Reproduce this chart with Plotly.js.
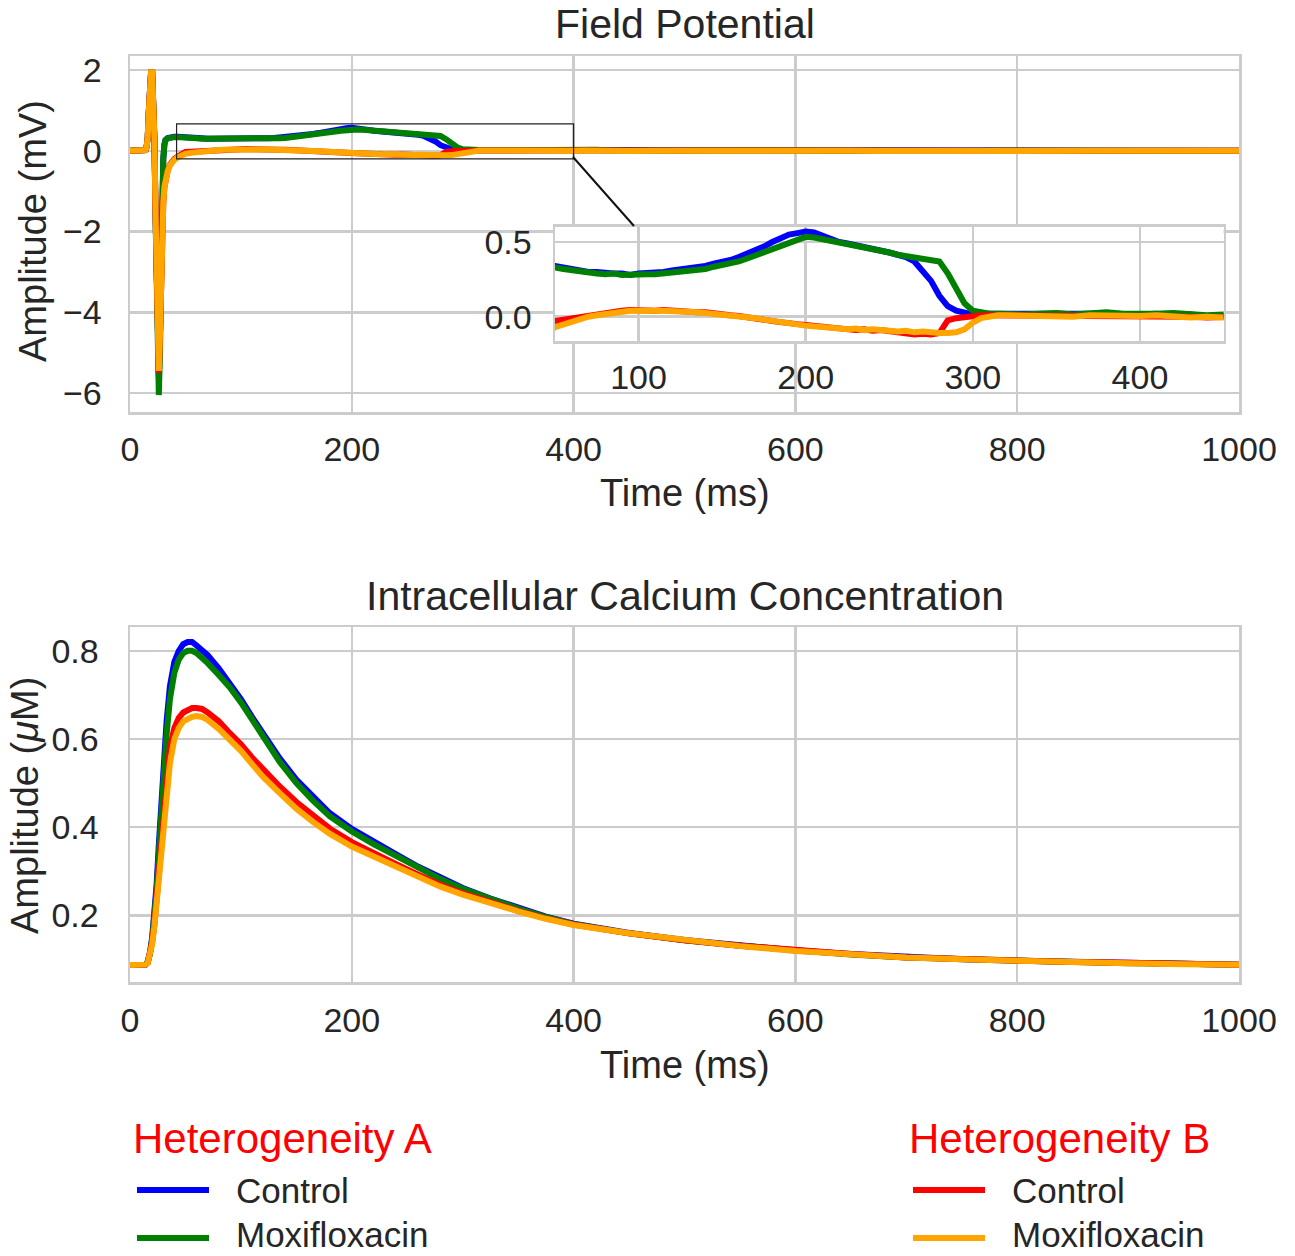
<!DOCTYPE html>
<html>
<head>
<meta charset="utf-8">
<script src="https://cdn.plot.ly/plotly-3.0.1.min.js"></script>
<style>html,body{margin:0;padding:0;background:#fff;}#chart{width:1295px;height:1256px;}</style>
</head>
<body>
<div id="chart"></div>
<script>
// ---------- Field potential (mV) ----------
const tFP = [0,5,10,13,14,15,16,17,18,19,20,21,22,23,24,25,26,27,28,29,30,31,32,34,36,38,40,43,46,
  50,55,60,65,70,75,80,85,90,95,100,105,110,115,120,125,130,135,140,145,150,155,160,165,170,175,180,185,190,195,200,
  205,210,215,220,225,230,235,240,245,250,255,260,265,270,275,280,285,290,295,300,305,310,315,320,
  330,340,350,360,370,380,390,400,410,420,430,440,450,475,500,525,550,575,600,625,650,675,700,725,750,775,800,825,850,875,900,925,950,975,1000];

const fpControlA = [0,0.01,0,0,0.02,0.1,0.35,1.0,1.6,1.95,1.95,1.4,0.3,-1.5,-3.6,-5.2,-5.6,-4.6,-2.8,-1.1,-0.2,0.15,0.27,0.32,0.34,0.34,0.35,0.35,0.34,
  0.34,0.33,0.32,0.31,0.30,0.30,0.29,0.29,0.29,0.28,0.29,0.29,0.29,0.30,0.31,0.315,0.32,0.33,0.34,0.355,0.365,0.38,0.40,0.42,0.44,0.47,0.50,0.53,0.55,0.56,0.57,
  0.565,0.54,0.52,0.50,0.49,0.48,0.47,0.46,0.445,0.43,0.415,0.40,0.37,0.31,0.24,0.14,0.07,0.04,0.025,0.015,0.02,0.02,0.015,0.02,
  0.02,0.015,0.02,0.025,0.015,0.02,0.01,0.015,0.02,0.01,0.015,0.005,0.01,0.01,0.015,0.01,0.005,0.01,0.01,0.005,0.01,0.005,0,0.005,0.01,0,0.005,0,0.005,0,0.005,0,0,0.005,0];

const fpMoxiA = [0,0.01,0,0,0.02,0.1,0.35,1.0,1.6,1.95,1.95,1.4,0.3,-1.6,-3.9,-5.6,-6.05,-5.0,-3.0,-1.2,-0.2,0.15,0.26,0.31,0.33,0.33,0.34,0.34,0.34,
  0.33,0.32,0.31,0.30,0.30,0.29,0.285,0.29,0.28,0.285,0.29,0.285,0.285,0.29,0.295,0.30,0.305,0.315,0.32,0.335,0.345,0.355,0.37,0.39,0.41,0.43,0.46,0.48,0.50,0.52,0.535,
  0.53,0.52,0.51,0.50,0.49,0.478,0.47,0.46,0.445,0.43,0.415,0.405,0.40,0.395,0.385,0.37,0.29,0.19,0.09,0.04,0.025,0.02,0.02,0.015,
  0.015,0.02,0.025,0.015,0.02,0.03,0.02,0.015,0.02,0.025,0.015,0.01,0.015,0.015,0.01,0.015,0.01,0.01,0.015,0.01,0.005,0.01,0.01,0,0.005,0.01,0.005,0,0.005,0.01,0,0.005,0,0,0.005];

const fpControlB = [0,0.01,-0.01,0,0.02,0.1,0.35,1.0,1.6,1.97,1.95,1.4,0.3,-1.5,-3.5,-5.0,-5.5,-4.6,-3.2,-2.0,-1.3,-0.9,-0.7,-0.48,-0.34,-0.26,-0.2,-0.14,-0.08,
  -0.03,-0.02,-0.01,0,0.01,0.015,0.025,0.035,0.04,0.045,0.04,0.045,0.04,0.045,0.04,0.035,0.035,0.03,0.03,0.02,0.015,0.01,0.005,0,-0.01,-0.02,-0.03,-0.04,-0.045,-0.05,-0.055,
  -0.06,-0.07,-0.075,-0.08,-0.085,-0.09,-0.085,-0.095,-0.09,-0.1,-0.105,-0.11,-0.12,-0.115,-0.12,-0.11,-0.025,-0.01,0,0.005,0.01,0.01,0.01,0.01,
  0.01,0.005,0.01,0.005,0,0.01,0.005,0.01,0,0.005,0,-0.005,0,0.005,0,0,-0.005,0,0.005,0,-0.005,0,0,-0.005,0,0.005,0,-0.005,0,0,-0.005,0,0,-0.005,0];

const fpMoxiB = [0,0.01,-0.01,0,0.02,0.1,0.35,1.0,1.6,1.95,1.95,1.4,0.3,-1.5,-3.5,-5.0,-5.45,-4.6,-3.2,-2.0,-1.3,-0.9,-0.7,-0.5,-0.36,-0.28,-0.22,-0.16,-0.11,
  -0.07,-0.05,-0.03,-0.01,0.0,0.01,0.02,0.03,0.035,0.04,0.04,0.045,0.04,0.04,0.04,0.035,0.03,0.03,0.025,0.02,0.015,0.01,0.0,-0.005,-0.01,-0.02,-0.03,-0.04,-0.045,-0.05,-0.06,
  -0.065,-0.07,-0.08,-0.075,-0.085,-0.08,-0.09,-0.085,-0.09,-0.095,-0.1,-0.095,-0.105,-0.1,-0.11,-0.11,-0.11,-0.105,-0.085,-0.04,-0.01,0.005,0.01,0.01,
  0.005,0.01,0.005,0,0.01,0.005,0,0.005,0.01,0,-0.005,0,-0.005,0,0.005,-0.005,0,0,-0.005,0.005,0,-0.005,0,0,0.005,-0.005,0,0,-0.005,0,0,0.005,-0.005,0,0];

// ---------- Intracellular calcium (uM) ----------
const tCa = [0,5,10,14,16,18,20,22,24,26,28,30,33,36,40,44,48,52,56,60,65,70,80,90,100,110,120,135,150,165,180,200,220,240,260,280,300,325,350,375,400,450,500,550,600,650,700,750,800,850,900,950,1000];
const caControlA = [0.087,0.087,0.087,0.088,0.095,0.115,0.15,0.2,0.27,0.36,0.45,0.54,0.64,0.72,0.775,0.80,0.815,0.82,0.82,0.812,0.80,0.79,0.76,0.727,0.69,0.65,0.611,0.556,0.508,0.468,0.432,0.396,0.366,0.338,0.31,0.285,0.262,0.238,0.216,0.197,0.181,0.16,0.144,0.131,0.12,0.112,0.105,0.1,0.097,0.094,0.092,0.09,0.088];
const caMoxiA = [0.087,0.087,0.087,0.088,0.094,0.112,0.145,0.19,0.255,0.34,0.42,0.51,0.61,0.69,0.75,0.78,0.795,0.80,0.80,0.795,0.785,0.772,0.745,0.717,0.683,0.643,0.602,0.548,0.5,0.46,0.425,0.39,0.361,0.334,0.307,0.282,0.26,0.236,0.215,0.196,0.18,0.159,0.143,0.131,0.12,0.111,0.104,0.1,0.096,0.094,0.091,0.09,0.088];
const caControlB = [0.087,0.087,0.087,0.088,0.092,0.11,0.14,0.18,0.24,0.3,0.37,0.44,0.52,0.58,0.625,0.648,0.66,0.666,0.67,0.67,0.668,0.66,0.64,0.613,0.588,0.558,0.53,0.492,0.457,0.425,0.397,0.366,0.34,0.316,0.292,0.269,0.25,0.229,0.21,0.193,0.179,0.159,0.143,0.131,0.12,0.112,0.104,0.1,0.096,0.094,0.092,0.09,0.088];
const caMoxiB = [0.087,0.087,0.087,0.088,0.092,0.108,0.135,0.175,0.23,0.285,0.345,0.4,0.48,0.545,0.6,0.625,0.64,0.647,0.65,0.652,0.65,0.643,0.623,0.598,0.573,0.543,0.514,0.477,0.442,0.412,0.385,0.356,0.333,0.31,0.287,0.265,0.247,0.227,0.209,0.192,0.178,0.159,0.143,0.13,0.119,0.111,0.104,0.1,0.096,0.093,0.091,0.089,0.088];

// ---------- Text ----------
const titleFP = "Field Potential";
const titleCa = "Intracellular Calcium Concentration";
const xTitle = "Time (ms)";
const yTitleFP = "Amplitude (mV)";
const yTitleCa = "Amplitude (<i>μ</i>M)";
const groupNames = ["Heterogeneity A", "Heterogeneity B"];
const seriesNames = ["Control", "Moxifloxacin"];
const xTicks = [0,200,400,600,800,1000];
const yTicksFP = [-6,-4,-2,0,2];
const yTicksCa = [0.2,0.4,0.6,0.8];
const insetXTicks = [100,200,300,400];
const insetYTicks = [0.0,0.5];

const colors = {ctrlA:"#0000ff", moxiA:"#008000", ctrlB:"#ff0000", moxiB:"#ffa500"};
const FONT = "Liberation Sans, Arial, sans-serif";
const TXT = "#262626";
const GRID = "#cccccc";
const LW = 6;

// pixel helpers (margins l=130, r=56, t=0, b=0)
const W = 1295, H = 1256, ML = 130, PW = 1109;
const px = x => (x - ML) / PW;
const py = y => 1 - y / H;

function tr(x, y, c, xa, ya) {
  return {x: x, y: y, xaxis: xa, yaxis: ya, type: "scatter", mode: "lines",
    line: {color: c, width: LW}, hoverinfo: "skip", showlegend: false};
}

const data = [
  tr(tFP, fpControlA, colors.ctrlA, "x", "y"),
  tr(tFP, fpMoxiA, colors.moxiA, "x", "y"),
  tr(tFP, fpControlB, colors.ctrlB, "x", "y"),
  tr(tFP, fpMoxiB, colors.moxiB, "x", "y"),
  tr(tCa, caControlA, colors.ctrlA, "x2", "y2"),
  tr(tCa, caMoxiA, colors.moxiA, "x2", "y2"),
  tr(tCa, caControlB, colors.ctrlB, "x2", "y2"),
  tr(tCa, caMoxiB, colors.moxiB, "x2", "y2"),
  tr(tFP, fpControlA, colors.ctrlA, "x3", "y3"),
  tr(tFP, fpMoxiA, colors.moxiA, "x3", "y3"),
  tr(tFP, fpControlB, colors.ctrlB, "x3", "y3"),
  tr(tFP, fpMoxiB, colors.moxiB, "x3", "y3")
];

function ax(extra) {
  return Object.assign({
    showgrid: true, gridcolor: GRID, gridwidth: 2.5,
    showline: true, mirror: true, linecolor: GRID, linewidth: 2.5,
    zeroline: false, ticks: "", automargin: false,
    tickfont: {family: FONT, size: 34, color: TXT}
  }, extra);
}

const annFont = (s, c) => ({family: FONT, size: s, color: c || TXT});
const annotations = [
  {text: titleFP, x: 0.5, y: py(24), xref: "paper", yref: "paper", showarrow: false, font: annFont(41), xanchor: "center", yanchor: "middle"},
  {text: titleCa, x: 0.5, y: py(596), xref: "paper", yref: "paper", showarrow: false, font: annFont(41), xanchor: "center", yanchor: "middle"},
  {text: xTitle, x: 0.5, y: py(493), xref: "paper", yref: "paper", showarrow: false, font: annFont(38), xanchor: "center", yanchor: "middle"},
  {text: xTitle, x: 0.5, y: py(1065), xref: "paper", yref: "paper", showarrow: false, font: annFont(38), xanchor: "center", yanchor: "middle"},
  {text: yTitleFP, x: px(33), y: py(231), xref: "paper", yref: "paper", showarrow: false, font: annFont(38), textangle: -90, xanchor: "center", yanchor: "middle"},
  {text: yTitleCa, x: px(25), y: py(806), xref: "paper", yref: "paper", showarrow: false, font: annFont(38), textangle: -90, xanchor: "center", yanchor: "middle"},
  {text: groupNames[0], x: px(131), y: py(1138), xref: "paper", yref: "paper", showarrow: false, font: annFont(42, "#ff0000"), xanchor: "left", yanchor: "middle"},
  {text: groupNames[1], x: px(907), y: py(1138), xref: "paper", yref: "paper", showarrow: false, font: annFont(42, "#ff0000"), xanchor: "left", yanchor: "middle"},
  {text: seriesNames[0], x: px(234), y: py(1190), xref: "paper", yref: "paper", showarrow: false, font: annFont(35), xanchor: "left", yanchor: "middle"},
  {text: seriesNames[1], x: px(234), y: 0, xref: "paper", yref: "paper", showarrow: false, font: annFont(35), xanchor: "left", yanchor: "bottom"},
  {text: seriesNames[0], x: px(1010), y: py(1190), xref: "paper", yref: "paper", showarrow: false, font: annFont(35), xanchor: "left", yanchor: "middle"},
  {text: seriesNames[1], x: px(1010), y: 0, xref: "paper", yref: "paper", showarrow: false, font: annFont(35), xanchor: "left", yanchor: "bottom"}
];

function legLine(x0, x1, y, c) {
  return {type: "line", xref: "paper", yref: "paper", x0: px(x0), x1: px(x1), y0: py(y), y1: py(y), line: {color: c, width: 6}};
}

const shapes = [
  {type: "rect", xref: "x", yref: "y", x0: 42, x1: 400, y0: -0.2, y1: 0.67, line: {color: "#222", width: 1.2}, layer: "above"},
  {type: "line", xref: "paper", yref: "paper", x0: px(573), y0: py(157), x1: px(634), y1: py(226), line: {color: "#111", width: 2}, layer: "above"},
  legLine(137, 209, 1190, colors.ctrlA),
  legLine(137, 209, 1238, colors.moxiA),
  legLine(913, 985, 1190, colors.ctrlB),
  legLine(913, 985, 1238, colors.moxiB)
];

const layout = {
  width: W, height: H,
  margin: {l: ML, r: W - ML - PW, t: 0, b: 0, pad: 0},
  paper_bgcolor: "#ffffff", plot_bgcolor: "#ffffff",
  showlegend: false,
  font: {family: FONT, color: TXT},
  xaxis: ax({domain: [0, 1], range: [0, 1000], tickvals: xTicks, anchor: "y", ticklabelstandoff: 6}),
  yaxis: ax({domain: [py(412), py(56)], range: [-6.47, 2.35], tickvals: yTicksFP, anchor: "x", ticklabelstandoff: 19}),
  xaxis2: ax({domain: [0, 1], range: [0, 1000], tickvals: xTicks, anchor: "y2", ticklabelstandoff: 7}),
  yaxis2: ax({domain: [py(982), py(627)], range: [0.0486, 0.854], tickvals: yTicksCa, tickformat: ".1f", anchor: "x2", ticklabelstandoff: 22}),
  xaxis3: ax({domain: [px(555), px(1223.5)], range: [50, 450], tickvals: insetXTicks, anchor: "y3", ticklabelstandoff: 5}),
  yaxis3: ax({domain: [py(341), py(226.7)], range: [-0.163, 0.603], tickvals: insetYTicks, tickformat: ".1f", anchor: "x3", ticklabelstandoff: 14}),
  annotations: annotations,
  shapes: shapes
};

Plotly.newPlot("chart", data, layout, {staticPlot: true, displayModeBar: false});
</script>
</body>
</html>
